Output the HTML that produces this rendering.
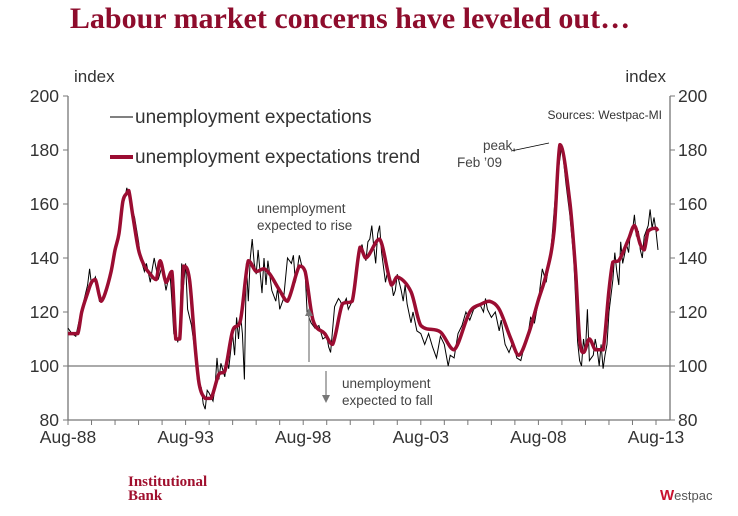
<!DOCTYPE html>
<html><head><meta charset="utf-8"><style>
body{margin:0;background:#fff;width:738px;height:511px;overflow:hidden;}
svg text{font-family:"Liberation Sans",sans-serif;}
</style></head><body>
<svg width="738" height="511">
<text x="350" y="28" text-anchor="middle" style="font-family:'Liberation Serif',serif;font-weight:bold;font-size:30px" fill="#8e0c2c">Labour market concerns have leveled out…</text>
<text x="74" y="82" font-size="17" fill="#333">index</text>
<text x="666" y="82" font-size="17" fill="#333" text-anchor="end">index</text>
<g id="axes"></g>
<g id="series"></g>
<line x1="110" y1="117" x2="133" y2="117" stroke="#000" stroke-width="1"/>
<text x="135" y="123" font-size="19" fill="#333">unemployment expectations</text>
<line x1="110" y1="157" x2="133" y2="157" stroke="#9b0d32" stroke-width="4"/>
<text x="135" y="163" font-size="19" fill="#333">unemployment expectations trend</text>
<text x="662" y="119" font-size="12" fill="#333" text-anchor="end">Sources: Westpac-MI</text>
<text x="483" y="150" font-size="13.5" fill="#444"><tspan x="483">peak,</tspan><tspan x="457" dy="17">Feb ’09</tspan></text>
<line x1="511" y1="151" x2="549" y2="143" stroke="#000" stroke-width="0.8"/>
<text x="257" y="213" font-size="13.5" fill="#444"><tspan x="257">unemployment</tspan><tspan x="257" dy="17">expected to rise</tspan></text>
<text x="342" y="388" font-size="13.5" fill="#444"><tspan x="342">unemployment</tspan><tspan x="342" dy="17">expected to fall</tspan></text>
<line x1="309" y1="362" x2="309" y2="314" stroke="#777" stroke-width="1.2"/>
<polygon points="305,316 313,316 309,308" fill="#777"/>
<line x1="326" y1="371" x2="326" y2="397" stroke="#777" stroke-width="1.2"/>
<polygon points="322,395 330,395 326,403" fill="#777"/>
<text x="128" y="486" style="font-family:'Liberation Serif',serif;font-weight:bold;font-size:15px" fill="#a0102e"><tspan x="128">Institutional</tspan><tspan x="128" dy="14">Bank</tspan></text>
<text x="660" y="500" style="font-weight:bold;font-size:13px" fill="#c8102e"><tspan font-size="15">W</tspan><tspan fill="#555" font-weight="normal">estpac</tspan></text>
</svg>
<script>
const yTicks=[80,100,120,140,160,180,200];
const xTickLabels=["Aug-88","Aug-93","Aug-98","Aug-03","Aug-08","Aug-13"];
const xTickMonths=[0,60,120,180,240,300];
const trendMonths=[0,5,7,10,12,14,16,17,19,22,24,26,28,30,31,33,36,39,42,45,47,50,53,55,57,59,62,65,67,70,73,77,80,84,88,92,96,100,103,108,112,118,121,125,131,135,140,145,149,152,159,165,168,175,180,190,197,205,211,215,220,226,230,235,240,244,248,251,256,259,261,263,266,269,273,276,278,281,286,289,292,294,296,300,301];
const trendValues=[112,112,120,127,131,132,126,124,127,135,143,149,161,164,165,156,143,137,134,132,139,131,135,110,110,137,132,106,93,88,88,97,98,113,117,139,135,136,134,128,124,137,135,117,112,108,123,124,144,140,147,130,133,127.5,115,112.6,106,120,123,124,121,110,104,112,124.5,134,150,182,161,135,110,105,110,106,106,128,138.5,139,147,152,145,143,150,151,150];
const rawMonths=[0,2,4,6,8,10,11,12,14,16,18,20,22,24,26,27,29,30,32,34,36,37,39,40,42,43,44,46,48,50,52,53,54,56,57,58,59,60,61,63,65,66,68,69,70,71,72,74,75,76,77,78,80,81,82,84,85,86,87,88,89,90,91,92,93,94,95,96,97,99,100,101,102,104,106,107,108,110,112,114,115,116,118,119,121,122,124,126,128,130,132,133,134,136,138,139,140,142,143,145,147,148,150,151,152,153,154,155,156,157,158,159,160,162,163,165,166,167,168,170,171,172,173,175,176,178,180,182,184,186,188,190,192,194,195,197,199,201,203,205,207,209,210,212,213,214,216,218,220,221,223,225,227,229,231,233,235,236,238,240,242,244,246,247,249,251,252,254,256,258,260,261,262,263,264,265,266,268,269,270,271,272,273,274,275,276,278,279,280,281,282,283,285,286,287,288,289,290,291,292,293,294,296,297,298,299,300,301];
const rawValues=[114,112,111,118,124,130,136,130,133,124,125,128,136,142,150,158,162,166,160,155,146,140,135,138,131,136,140,132,137,128,135,124,112,109,112,138,130,138,121,115,104,95,92,86,84,91,90,87,92,103,95,101,96,102,99,112,104,118,110,119,112,95,138,124,140,147,138,134,143,127,140,130,139,128,124,129,121,125,140,138,141,131,141,138,134,120,116,114,115,110,111,107,105,122,125,124,122,125,121,124,135,140,145,141,139,146,147,152,144,138,149,152,142,131,135,131,126,128,134,128,124,130,123,116,120,113,112,108,112,107,103,111,108,100,104,103,112,115,120,117,121,122,123,120,125,121,118,120,113,117,108,105,109,103,102,108,113,118,116,124,136,131,141,148,166,177,182,168,156,140,109,102,100,110,105,121,102,104,110,106,100,108,99,104,108,120,132,142,135,130,146,138,145,142,150,150,156,148,150,143,140,148,152,158,151,155,150,143];
const NS="http://www.w3.org/2000/svg";
const X0=68,X1=670,pxPerMonth=(656-68)/300;
const xS=m=>X0+m*pxPerMonth;
const yS=v=>96+(200-v)*2.7;
const ax=document.getElementById('axes'),se=document.getElementById('series');
function mk(tag,at,par){const e=document.createElementNS(NS,tag);for(const k in at)e.setAttribute(k,at[k]);par.appendChild(e);return e;}
let l=mk('line',{x1:X0,y1:96,x2:X0,y2:420,stroke:'#777','stroke-width':1.3},ax);


l=mk('line',{x1:X1,y1:96,x2:X1,y2:420,stroke:'#777','stroke-width':1.3},ax);


l=mk('line',{x1:X0,y1:420,x2:X1,y2:420,stroke:'#777','stroke-width':1.3},ax);


l=mk('line',{x1:X0,y1:yS(100),x2:X1,y2:yS(100),stroke:'#777','stroke-width':1.2},ax);


yTicks.forEach(v=>{
 mk('line',{x1:X0-5,y1:yS(v),x2:X0,y2:yS(v),stroke:'#777'},ax);
 mk('line',{x1:X1,y1:yS(v),x2:X1+5,y2:yS(v),stroke:'#777'},ax);
 let t=mk('text',{x:X0-9,y:yS(v)+6,'font-size':17.5,fill:'#333','text-anchor':'end'},ax);t.textContent=v;
 
 
 t=mk('text',{x:X1+8,y:yS(v)+6,'font-size':17.5,fill:'#333'},ax);t.textContent=v;
 
 
});
for(let m=0;m<=300;m+=12) mk('line',{x1:xS(m),y1:420,x2:xS(m),y2:425,stroke:'#777'},ax);
xTickLabels.forEach((s,i)=>{
 const t=mk('text',{x:xS(xTickMonths[i]),y:443,'font-size':17.5,fill:'#333','text-anchor':'middle'},ax);t.textContent=s;
 
 
});
let d=rawMonths.map((m,i)=>(i?'L':'M')+xS(m).toFixed(1)+','+yS(rawValues[i]).toFixed(1)).join('');
let p=mk('path',{d:d,fill:'none',stroke:'#000','stroke-width':1},se);


const pts=trendMonths.map((m,i)=>[xS(m),yS(trendValues[i])]);
d='M'+pts[0][0]+','+pts[0][1];
for(let i=0;i<pts.length-1;i++){const a=pts[Math.max(i-1,0)],b=pts[i],c=pts[i+1],e=pts[Math.min(i+2,pts.length-1)];
 const h=c[0]-b[0];
 let s1=(c[1]-a[1])/((c[0]-a[0])||1), s2=(e[1]-b[1])/((e[0]-b[0])||1);
 const sl=(c[1]-b[1])/h;
 if(sl*s1<=0)s1=0; if(sl*s2<=0)s2=0;
 s1=Math.sign(s1)*Math.min(Math.abs(s1),3*Math.abs(sl));
 s2=Math.sign(s2)*Math.min(Math.abs(s2),3*Math.abs(sl));
 d+='C'+(b[0]+h/3)+','+(b[1]+s1*h/3)+' '+(c[0]-h/3)+','+(c[1]-s2*h/3)+' '+c[0]+','+c[1];}
p=mk('path',{d:d,fill:'none',stroke:'#9b0d32','stroke-width':3.5,'stroke-linejoin':'round'},se);


</script>
</body></html>
